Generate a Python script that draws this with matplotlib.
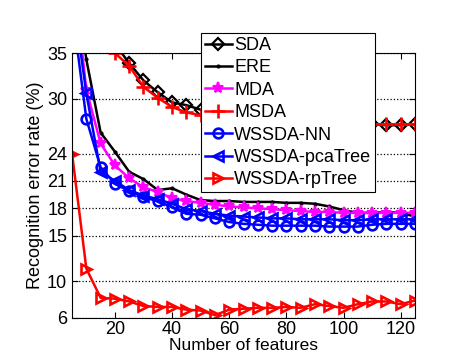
import matplotlib
matplotlib.use("Agg")
import matplotlib.pyplot as plt

plt.rcParams['font.family'] = ['Liberation Sans', 'DejaVu Sans']

# number of features (x axis)
n_features = list(range(5, 130, 5))

# recognition error rate (%) per method
sda = [48, 43, 39, 36.0, 33.9, 32.0, 30.7, 29.6, 29.3, 28.8, 28.6, 28.4, 28.3,
       28.2, 28.1, 28.0, 27.9, 27.8, 27.7, 27.6, 27.4, 27.2, 27.1, 27.1, 27.2]
ere = [45, 34.3, 26.3, 24.2, 22.0, 21.2, 20.0, 20.2, 19.5, 18.9, 18.8, 18.8, 18.7,
       18.7, 18.7, 18.6, 18.6, 18.5, 18.2, 17.8, 17.5, 17.5, 17.6, 17.5, 17.1]
mda = [45, 31.0, 25.1, 22.7, 21.3, 20.3, 19.8, 19.1, 18.8, 18.6, 18.4, 18.2, 18.1,
       18.0, 17.9, 17.8, 17.7, 17.6, 17.6, 17.5, 17.5, 17.5, 17.5, 17.5, 17.5]
msda = [48, 43, 39, 35.0, 33.6, 31.3, 30.1, 29.1, 28.5, 28.2, 28.0, 27.9, 27.8,
        27.7, 27.6, 27.5, 27.4, 27.4, 27.3, 27.3, 27.2, 27.2, 27.2, 27.2, 27.2]
wssda_nn = [40, 27.8, 22.5, 20.7, 19.9, 19.2, 18.8, 18.1, 17.4, 17.3, 16.9, 16.5, 16.3,
            16.2, 16.1, 16.1, 16.1, 16.1, 16.0, 16.0, 16.0, 16.2, 16.3, 16.3, 16.3]
wssda_pca = [42, 30.6, 22.0, 21.0, 20.0, 19.4, 19.0, 18.5, 17.9, 17.7, 17.4, 17.2, 17.1,
             17.0, 16.9, 16.9, 16.8, 16.8, 16.8, 16.7, 16.7, 16.8, 16.8, 16.8, 16.8]
wssda_rp = [24.0, 11.4, 8.2, 8.1, 7.8, 7.3, 7.2, 7.2, 6.9, 6.8, 6.3, 6.9, 7.0,
            7.1, 7.1, 7.2, 7.1, 7.5, 7.3, 7.1, 7.5, 7.8, 7.8, 7.5, 7.9]

y_ticks = [6, 10, 15, 18, 21, 24, 30, 35]
x_ticks = [20, 40, 60, 80, 100, 120]

fig = plt.figure(figsize=(4.56, 3.54), dpi=100)
ax = fig.add_axes([0.158, 0.102, 0.752, 0.748])

lw = 1.8
ax.plot(n_features, sda, color='black', marker='D', mfc='none', ms=6, mew=1.6, lw=lw, label='SDA')
ax.plot(n_features, ere, color='black', marker='.', ms=4, lw=lw, label='ERE')
ax.plot(n_features, mda, color='magenta', marker='*', ms=8, mew=1.6, lw=lw, label='MDA')
ax.plot(n_features, msda, color='red', marker='+', ms=10, mew=1.9, lw=lw, label='MSDA')
ax.plot(n_features, wssda_nn, color='blue', marker='o', mfc='none', ms=7, mew=1.9, lw=lw, label='WSSDA-NN')
ax.plot(n_features, wssda_pca, color='blue', marker='<', mfc='none', ms=7, mew=1.9, lw=lw, label='WSSDA-pcaTree')
ax.plot(n_features, wssda_rp, color='red', marker='>', mfc='none', ms=7, mew=1.9, lw=lw, label='WSSDA-rpTree')

ax.set_xlim(5, 125)
ax.set_ylim(6, 35)
ax.set_xticks(x_ticks)
ax.set_yticks(y_ticks)
ax.yaxis.grid(True, linestyle=':', color='black', linewidth=0.9)
ax.tick_params(direction='in', top=True, right=True, labelsize=13, length=4)
ax.tick_params(axis='x', pad=2)
ax.set_xlabel('Number of features', fontsize=12.5, labelpad=0)
ax.set_ylabel('Recognition error rate (%)', fontsize=13, labelpad=2)

leg = ax.legend(loc='upper left', bbox_to_anchor=(0.376, 1.075), borderaxespad=0,
                fontsize=13, handlelength=1.5, handletextpad=0.15, labelspacing=0.3,
                borderpad=0.2, fancybox=False, framealpha=1, edgecolor='black')
leg.get_frame().set_linewidth(0.8)

fig.savefig('out.png', dpi=100)
